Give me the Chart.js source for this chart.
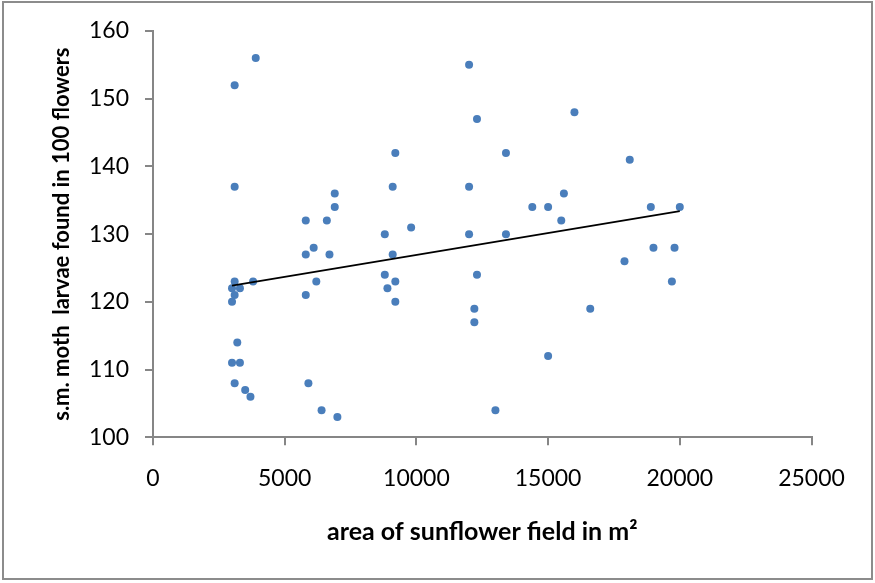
<!DOCTYPE html>
<html>
<head>
<meta charset="utf-8">
<script src="https://cdn.jsdelivr.net/npm/chart.js@4/dist/chart.umd.min.js"></script>
<style>
  html, body { margin: 0; padding: 0; background: #fff; }
  #wrap { width: 875px; height: 583px; position: relative; }
</style>
</head>
<body>
<div id="wrap"><canvas id="c" width="875" height="583"></canvas></div>
<script>
// Data
const areaM2 = [
  3900, 3100, 9200, 3100, 9100, 6900, 6900, 5800, 6600, 9800,
  8800, 6100, 5800, 6700, 9100, 3100, 3800, 6200, 9200, 8800,
  3000, 3300, 8900, 3100, 5800, 3000, 9200, 3200, 3000, 3300,
  3100, 5900, 3500, 3700, 6400, 7000, 12000, 12300, 16000, 13400,
  18100, 12000, 15600, 14400, 15000, 18900, 20000, 15500, 12000, 13400,
  19000, 19800, 17900, 12300, 19700, 12200, 16600, 12200, 15000, 13000
];
const larvae = [
  156, 152, 142, 137, 137, 136, 134, 132, 132, 131,
  130, 128, 127, 127, 127, 123, 123, 123, 123, 124,
  122, 122, 122, 121, 121, 120, 120, 114, 111, 111,
  108, 108, 107, 106, 104, 103, 155, 147, 148, 142,
  141, 137, 136, 134, 134, 134, 134, 132, 130, 130,
  128, 128, 126, 124, 123, 119, 119, 117, 112, 104
];
// Linear trend line end points
const trendX = [3000, 20000];
const trendY = [122.4, 133.4];
// Axis tick settings
const xTicks = [0, 5000, 10000, 15000, 20000, 25000];
const yTicks = [100, 110, 120, 130, 140, 150, 160];

const xTitle = 'area of sunflower field in m\u00B2';
const yTitle = 's.m. moth  larvae found in 100 flowers';

const scatterData = areaM2.map((x, i) => ({ x: x, y: larvae[i] }));
const trendData = trendX.map((x, i) => ({ x: x, y: trendY[i] }));

const frame = {
  id: 'frame',
  beforeDraw(chart) {
    const ctx = chart.ctx;
    ctx.save();
    ctx.fillStyle = '#ffffff';
    ctx.fillRect(0, 0, chart.width, chart.height);
    ctx.strokeStyle = '#8c8c8c';
    ctx.lineWidth = 2;
    ctx.strokeRect(3, 2, 869, 577);
    ctx.restore();
  }
};

const axisGray = '#868686';
const FONT = 'Lato, "Open Sans", "Liberation Sans", sans-serif';

new Chart(document.getElementById('c'), {
  type: 'scatter',
  data: {
    datasets: [
      {
        type: 'line',
        label: 'trend',
        data: trendData,
        borderColor: '#000000',
        borderWidth: 2,
        pointRadius: 0,
        fill: false,
        order: 0
      },
      {
        label: 'larvae',
        data: scatterData,
        backgroundColor: '#4A7EBB',
        borderColor: '#4A7EBB',
        borderWidth: 0,
        pointRadius: 4,
        order: 1
      }
    ]
  },
  options: {
    responsive: false,
    animation: false,
    devicePixelRatio: 1,
    layout: { padding: { top: 31, right: 63.5, bottom: 0, left: 0 } },
    plugins: { legend: { display: false }, tooltip: { enabled: false } },
    scales: {
      x: {
        type: 'linear',
        position: 'bottom',
        min: xTicks[0],
        max: xTicks[xTicks.length - 1],
        afterBuildTicks(scale) { scale.ticks = xTicks.map(v => ({ value: v })); },
        afterFit(scale) { scale.height = 145.7; scale.paddingLeft = 0; scale.paddingRight = 0; },
        border: { display: true, color: axisGray, width: 2 },
        grid: { display: true, drawOnChartArea: false, drawTicks: true, tickLength: 8, color: axisGray, lineWidth: 2 },
        ticks: { color: '#000', font: { family: FONT, size: 23 }, padding: 19, maxRotation: 0, autoSkip: false,
                 callback: v => String(v) },
        title: {
          display: true, text: xTitle, color: '#000',
          font: { family: FONT, size: 25, weight: 'bold' },
          padding: { top: 0, bottom: 36 }
        }
      },
      y: {
        type: 'linear',
        position: 'left',
        min: yTicks[0],
        max: yTicks[yTicks.length - 1],
        afterBuildTicks(scale) { scale.ticks = yTicks.map(v => ({ value: v })); },
        afterFit(scale) { scale.width = 153; scale.paddingTop = 0; scale.paddingBottom = 0; },
        border: { display: true, color: axisGray, width: 2 },
        grid: { display: true, drawOnChartArea: false, drawTicks: true, tickLength: 8, color: axisGray, lineWidth: 2 },
        ticks: { color: '#000', font: { family: FONT, size: 23 }, padding: 16, callback: v => String(v) },
        title: {
          display: true, text: yTitle, color: '#000',
          font: { family: FONT, size: 22, weight: 'bold' },
          padding: { top: 49, bottom: 0 }
        }
      }
    }
  },
  plugins: [frame]
});
</script>
</body>
</html>
